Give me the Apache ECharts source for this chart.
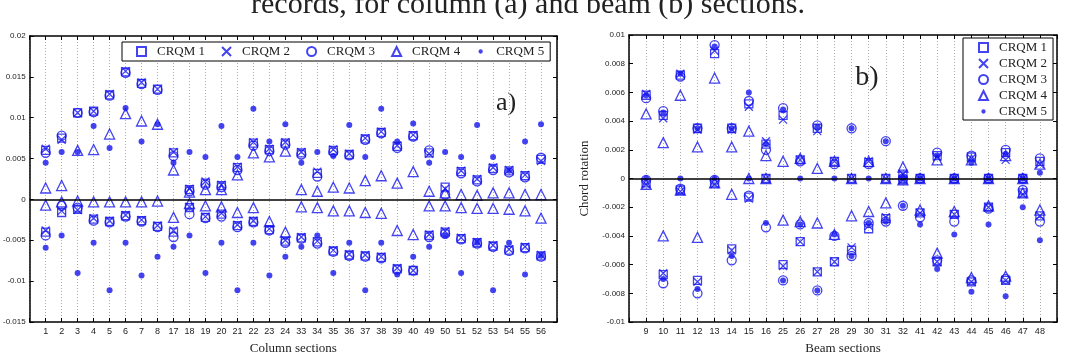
<!DOCTYPE html>
<html>
<head>
<meta charset="utf-8">
<script src="https://cdn.jsdelivr.net/npm/echarts@6/dist/echarts.min.js"></script>
<style>
  html, body { margin: 0; padding: 0; background: #fff; }
  #chart { width: 1065px; height: 360px; }
</style>
</head>
<body>
<div id="chart"></div>
<script>
// section labels
var colSections = [1, 2, 3, 4, 5, 6, 7, 8, 17, 18, 19, 20, 21, 22, 23, 24, 33, 34, 35, 36, 37, 38, 39, 40, 49, 50, 51, 52, 53, 54, 55, 56];
var beamSections = [9, 10, 11, 12, 13, 14, 15, 16, 25, 26, 27, 28, 29, 30, 31, 32, 41, 42, 43, 44, 45, 46, 47, 48];
var seriesNames = ['CRQM 1', 'CRQM 2', 'CRQM 3', 'CRQM 4', 'CRQM 5'];
var colTicks = [-0.015, 0.02, 0.005];   // min, max, step
var beamTicks = [-0.01, 0.01, 0.002];

// column sections: [max, min] chord rotation
var colCRQM1 = [[0.0060,-0.0040],[0.0075,-0.0016],[0.0106,-0.0012],[0.0108,-0.0024],[0.0128,-0.0027],[0.0156,-0.0020],[0.0142,-0.0026],[0.0135,-0.0033],
  [0.0057,-0.0040],[0.0012,-0.0010],[0.0020,-0.0022],[0.0017,-0.0018],[0.0039,-0.0032],[0.0069,-0.0027],[0.0061,-0.0037],[0.0069,-0.0051],
  [0.0057,-0.0047],[0.0032,-0.0052],[0.0060,-0.0063],[0.0055,-0.0068],[0.0074,-0.0069],[0.0082,-0.0071],[0.0065,-0.0085],[0.0078,-0.0087],
  [0.0057,-0.0044],[0.0015,-0.0040],[0.0034,-0.0048],[0.0024,-0.0053],[0.0038,-0.0057],[0.0035,-0.0062],[0.0029,-0.0059],[0.0049,-0.0069]];
var colCRQM2 = [[0.0062,-0.0038],[0.0073,-0.0014],[0.0106,-0.0013],[0.0108,-0.0023],[0.0129,-0.0026],[0.0157,-0.0019],[0.0143,-0.0025],[0.0135,-0.0032],
  [0.0058,-0.0038],[0.0013,-0.0009],[0.0022,-0.0021],[0.0018,-0.0017],[0.0040,-0.0031],[0.0070,-0.0026],[0.0062,-0.0036],[0.0070,-0.0050],
  [0.0058,-0.0046],[0.0034,-0.0051],[0.0061,-0.0062],[0.0056,-0.0067],[0.0075,-0.0068],[0.0083,-0.0070],[0.0066,-0.0084],[0.0079,-0.0087],
  [0.0056,-0.0043],[0.0013,-0.0039],[0.0035,-0.0047],[0.0025,-0.0052],[0.0039,-0.0056],[0.0036,-0.0061],[0.0030,-0.0058],[0.0047,-0.0068]];
var colCRQM3 = [[0.0057,-0.0044],[0.0078,-0.0008],[0.0106,-0.0010],[0.0107,-0.0026],[0.0127,-0.0028],[0.0155,-0.0021],[0.0141,-0.0027],[0.0134,-0.0034],
  [0.0053,-0.0046],[0.0010,-0.0018],[0.0018,-0.0023],[0.0015,-0.0021],[0.0036,-0.0034],[0.0066,-0.0028],[0.0059,-0.0038],[0.0067,-0.0053],
  [0.0055,-0.0048],[0.0028,-0.0054],[0.0058,-0.0064],[0.0054,-0.0069],[0.0073,-0.0070],[0.0081,-0.0072],[0.0063,-0.0086],[0.0077,-0.0087],
  [0.0060,-0.0046],[0.0006,-0.0042],[0.0032,-0.0049],[0.0022,-0.0054],[0.0036,-0.0058],[0.0033,-0.0063],[0.0027,-0.0060],[0.0051,-0.0070]];
var colCRQM4 = [[0.0014,-0.0007],[0.0017,-0.0003],[0.0060,-0.0002],[0.0061,-0.0003],[0.0080,-0.0003],[0.0105,-0.0003],[0.0096,-0.0003],[0.0092,-0.0002],
  [0.0036,-0.0022],[0.0009,-0.0005],[0.0012,-0.0008],[0.0012,-0.0009],[0.0030,-0.0016],[0.0057,-0.0010],[0.0052,-0.0027],[0.0059,-0.0040],
  [0.0012,-0.0009],[0.0010,-0.0010],[0.0015,-0.0014],[0.0014,-0.0014],[0.0023,-0.0016],[0.0029,-0.0017],[0.0020,-0.0038],[0.0034,-0.0043],
  [0.0010,-0.0008],[0.0008,-0.0008],[0.0006,-0.0010],[0.0005,-0.0011],[0.0008,-0.0011],[0.0008,-0.0012],[0.0006,-0.0014],[0.0006,-0.0023]];
var colCRQM5 = [[0.0045,-0.0059],[0.0058,-0.0044],[0.0058,-0.0090],[0.0090,-0.0053],[0.0063,-0.0111],[0.0112,-0.0053],[0.0071,-0.0093],[0.0092,-0.0070],
  [0.0045,-0.0058],[0.0058,-0.0044],[0.0052,-0.0090],[0.0090,-0.0053],[0.0052,-0.0111],[0.0111,-0.0053],[0.0071,-0.0093],[0.0092,-0.0070],
  [0.0045,-0.0058],[0.0058,-0.0044],[0.0053,-0.0090],[0.0091,-0.0053],[0.0052,-0.0111],[0.0111,-0.0053],[0.0071,-0.0092],[0.0093,-0.0070],
  [0.0045,-0.0058],[0.0058,-0.0044],[0.0052,-0.0090],[0.0091,-0.0053],[0.0052,-0.0111],[0.0035,-0.0053],[0.0071,-0.0092],[0.0092,-0.0069]];

// beam sections: [max, min] chord rotation
var beamCRQM1 = [[0.0058,-0.0003],[0.0044,-0.0067],[0.0072,-0.0008],[0.0035,-0.0071],[0.0087,-0.0003],[0.0035,-0.0049],[0.0052,-0.0013],[0.0024,0.0000],
  [0.0044,-0.0060],[0.0013,-0.0044],[0.0035,-0.0065],[0.0012,-0.0058],[0.0000,-0.0050],[0.0011,-0.0035],[0.0000,-0.0028],[0.0003,-0.0001],
  [0.0000,-0.0024],[0.0016,-0.0058],[0.0000,-0.0025],[0.0015,-0.0072],[0.0000,-0.0020],[0.0018,-0.0071],[0.0000,-0.0010],[0.0012,-0.0026]];
var beamCRQM2 = [[0.0059,-0.0004],[0.0042,-0.0066],[0.0073,-0.0009],[0.0034,-0.0072],[0.0089,-0.0004],[0.0034,-0.0050],[0.0050,-0.0014],[0.0026,0.0000],
  [0.0041,-0.0061],[0.0013,-0.0044],[0.0033,-0.0065],[0.0012,-0.0058],[0.0000,-0.0048],[0.0012,-0.0033],[0.0000,-0.0027],[0.0003,-0.0001],
  [0.0000,-0.0024],[0.0015,-0.0058],[0.0000,-0.0025],[0.0014,-0.0072],[0.0000,-0.0020],[0.0013,-0.0071],[0.0000,-0.0011],[0.0010,-0.0026]];
var beamCRQM3 = [[0.0056,-0.0001],[0.0047,-0.0073],[0.0071,-0.0007],[0.0035,-0.0080],[0.0093,-0.0001],[0.0035,-0.0057],[0.0054,-0.0012],[0.0020,-0.0034],
  [0.0049,-0.0071],[0.0012,-0.0032],[0.0037,-0.0078],[0.0010,-0.0040],[0.0035,-0.0054],[0.0010,-0.0031],[0.0026,-0.0030],[0.0000,-0.0019],
  [0.0000,-0.0027],[0.0018,-0.0057],[0.0000,-0.0030],[0.0016,-0.0071],[0.0000,-0.0021],[0.0020,-0.0070],[0.0000,-0.0008],[0.0014,-0.0030]];
var beamCRQM4 = [[0.0045,-0.0004],[0.0025,-0.0040],[0.0058,-0.0008],[0.0022,-0.0041],[0.0070,-0.0003],[0.0022,-0.0011],[0.0033,0.0000],[0.0016,0.0000],
  [0.0012,-0.0029],[0.0014,-0.0030],[0.0007,-0.0031],[0.0012,-0.0039],[0.0000,-0.0026],[0.0012,-0.0023],[0.0000,-0.0017],[0.0008,-0.0001],
  [0.0000,-0.0022],[0.0013,-0.0052],[0.0000,-0.0023],[0.0013,-0.0069],[0.0000,-0.0019],[0.0016,-0.0068],[0.0000,-0.0010],[0.0010,-0.0022]];
var beamCRQM5 = [[0.0058,0.0000],[0.0046,-0.0070],[0.0073,0.0000],[0.0035,-0.0077],[0.0092,0.0000],[0.0035,-0.0054],[0.0060,0.0000],[0.0024,-0.0031],
  [0.0048,-0.0071],[0.0000,-0.0032],[0.0036,-0.0078],[0.0000,-0.0039],[0.0035,-0.0054],[0.0000,-0.0031],[0.0026,-0.0030],[0.0000,-0.0019],
  [0.0000,-0.0032],[0.0016,-0.0063],[0.0000,-0.0039],[0.0011,-0.0079],[0.0000,-0.0032],[0.0017,-0.0082],[0.0000,-0.0020],[0.0004,-0.0043]];

var BLUE = '#1414ee';
var serif = 'Liberation Serif';
var sans = 'Liberation Sans';

var symbols = ['rect', 'path://M0,0L10,10M0,10L10,0', 'circle', 'triangle', 'circle'];
var sizes = [8, 8, 9, 10, 6];

function points(pairs) {
  var out = [];
  pairs.forEach(function (p, i) {
    out.push([i + 1, p[0]]);
    out.push([i + 1, p[1]]);
  });
  return out;
}

function makeSeries(k, pairs, xi, yi) {
  var hollow = k < 4;
  var s = {
    name: seriesNames[k],
    type: 'scatter',
    xAxisIndex: xi,
    yAxisIndex: yi,
    symbol: symbols[k],
    symbolSize: sizes[k],
    itemStyle: hollow
      ? { color: 'rgba(0,0,0,0)', borderColor: BLUE, borderWidth: 1.3 }
      : { color: BLUE, borderWidth: 0 },
    emphasis: { disabled: true },
    data: points(pairs)
  };
  if (k === 0) {
    s.markLine = {
      silent: true,
      symbol: 'none',
      label: { show: false },
      lineStyle: { color: '#000', type: 'solid', width: 1.5 },
      data: [{ yAxis: 0 }]
    };
  }
  return s;
}

function bottomAxis(grid, labels, name) {
  return {
    type: 'value', gridIndex: grid, min: 0, max: labels.length + 1, interval: 1,
    name: name, nameLocation: 'middle', nameGap: 20,
    nameTextStyle: { fontFamily: serif, fontSize: 13, color: '#222' },
    axisLine: { onZero: false, lineStyle: { color: '#000', width: 1.5 } },
    axisTick: { inside: true, length: 4, lineStyle: { color: '#000' } },
    axisLabel: {
      margin: 5, fontFamily: sans, fontSize: 9, color: '#222',
      formatter: function (v) { return labels[v - 1] !== undefined ? String(labels[v - 1]) : ''; }
    },
    splitLine: { show: true, lineStyle: { color: '#aaa', type: [1, 2], width: 1 } }
  };
}

function topAxis(grid, labels) {
  return {
    type: 'value', gridIndex: grid, position: 'top', min: 0, max: labels.length + 1, interval: 1,
    axisLine: { onZero: false, lineStyle: { color: '#000', width: 1.5 } },
    axisTick: { inside: true, length: 4, lineStyle: { color: '#000' } },
    axisLabel: { show: false },
    splitLine: { show: false }
  };
}

function leftAxis(grid, t, name) {
  return {
    type: 'value', gridIndex: grid, min: t[0], max: t[1], interval: t[2],
    name: name || '', nameLocation: 'middle', nameGap: 38, nameRotate: 90,
    nameTextStyle: { fontFamily: serif, fontSize: 13, color: '#222' },
    axisLine: { onZero: false, lineStyle: { color: '#000', width: 1.5 } },
    axisTick: { inside: true, length: 4, lineStyle: { color: '#000' } },
    axisLabel: { margin: 4, fontFamily: sans, fontSize: 8, color: '#222' },
    splitLine: { show: false }
  };
}

function rightAxis(grid, t) {
  return {
    type: 'value', gridIndex: grid, position: 'right', min: t[0], max: t[1], interval: t[2],
    axisLine: { onZero: false, lineStyle: { color: '#000', width: 1.5 } },
    axisTick: { inside: true, length: 4, lineStyle: { color: '#000' } },
    axisLabel: { show: false },
    splitLine: { show: false }
  };
}

var colSets = [colCRQM1, colCRQM2, colCRQM3, colCRQM4, colCRQM5];
var beamSets = [beamCRQM1, beamCRQM2, beamCRQM3, beamCRQM4, beamCRQM5];
var series = [];
colSets.forEach(function (d, k) { series.push(makeSeries(k, d, 0, 0)); });
beamSets.forEach(function (d, k) { series.push(makeSeries(k, d, 2, 2)); });

// legend entries; the dot icon is drawn small inside a padded box
var legendItems = seriesNames.map(function (n, k) {
  if (k === 4) return { name: n, icon: 'path://M0,0M10,10M5,2.6A2.4,2.4,0,1,1,4.99,2.6Z' };
  return { name: n };
});
var legendText = { fontFamily: serif, fontSize: 13, color: '#222', padding: [0, 0, 0, 6] };

var chart = echarts.init(document.getElementById('chart'));
chart.setOption({
  backgroundColor: '#fff',
  animation: false,
  grid: [
    { left: 26, top: 36, width: 531, height: 299 },
    { left: 629, top: 35, width: 428, height: 298 }
  ],
  xAxis: [
    bottomAxis(0, colSections, 'Column sections'),
    topAxis(0, colSections),
    bottomAxis(1, beamSections, 'Beam sections'),
    topAxis(1, beamSections)
  ],
  yAxis: [
    leftAxis(0, colTicks),
    rightAxis(0, colTicks),
    leftAxis(1, beamTicks, 'Chord rotation'),
    rightAxis(1, beamTicks)
  ],
  legend: [
    {
      data: legendItems, orient: 'horizontal', left: 122, top: 42,
      padding: [3, 6, 3, 14], itemGap: 16, itemWidth: 9, itemHeight: 9,
      backgroundColor: '#fff', borderColor: '#000', borderWidth: 1,
      textStyle: legendText, selectedMode: false
    },
    {
      data: legendItems, orient: 'vertical', left: 963, top: 38,
      padding: [3, 6, 2, 15], itemGap: 3, itemWidth: 9, itemHeight: 9,
      backgroundColor: '#fff', borderColor: '#000', borderWidth: 1,
      textStyle: legendText, selectedMode: false
    }
  ],
  graphic: [
    { type: 'text', x: 528, y: 5, style: { text: 'records, for column (a) and beam (b) sections.', font: '30px "Liberation Serif"', fill: '#222', align: 'center', verticalAlign: 'middle' } },
    { type: 'text', x: 506, y: 103, style: { text: 'a)', font: '26px "Liberation Serif"', fill: '#222', align: 'center', verticalAlign: 'middle' } },
    { type: 'text', x: 867, y: 78, style: { text: 'b)', font: '28px "Liberation Serif"', fill: '#222', align: 'center', verticalAlign: 'middle' } }
  ],
  series: series
});
</script>
</body>
</html>
